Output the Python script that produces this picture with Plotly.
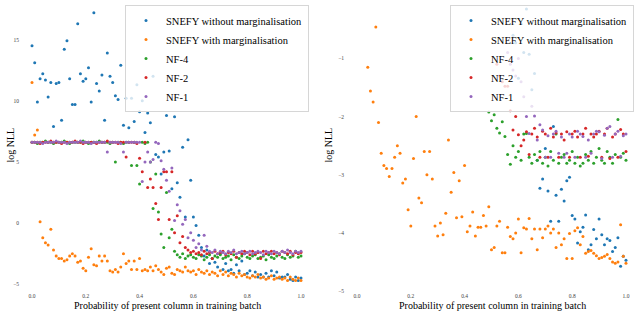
import plotly.graph_objects as go

# ---------------- data ----------------
x_vals = [round(i * 0.01, 2) for i in range(101)]

series_names = ["SNEFY without marginalisation", "SNEFY with marginalisation", "NF-4", "NF-2", "NF-1"]
series_colors = ["#1f77b4", "#ff7f0e", "#2ca02c", "#d62728", "#9467bd"]

# Left panel
left_snefy_nomarg = [14.5, 13.1, 9.9, 11.8, 12.2, 11.7, 10.3, 11.5, 7.9, 11.4,
                     11.5, 8.4, 14.2, 14.9, 11.8, 9.7, 9.7, 16.3, 12.2, 11.6,
                     11.8, 12.7, 9.9, 17.2, 11.4, 10.8, 12.1, 8.4, 13.9, 12.0,
                     11.5, 10.4, 10.1, 12.9, 8.0, 10.2, 7.8, 10.2, 8.3, 11.3,
                     9.1, 10.0, 7.4, 9.0, 8.2, 12.0, 5.6, 5.4, 4.0, 5.8,
                     8.8, 5.9, 2.8, 8.7, 3.3, 2.1, 6.2, 0.5, 6.8, 3.5,
                     0.5, -0.2, -1.0, -2.0, -2.7, -2.2, -3.3, -2.9, -3.2, -3.6,
                     -2.5, -3.8, -3.3, -3.9, -3.8, -4.1, -3.4, -3.9, -3.1, -4.2,
                     -4.1, -3.9, -4.3, -4.0, -4.4, -4.2, -4.4, -4.1, -4.4, -3.9,
                     -4.3, -4.0, -4.5, -4.4, -4.4, -4.2, -4.6, -4.7, -4.4, -4.7, -4.5]
left_snefy_marg = [11.5, 7.2, 7.6, 0.1, -1.2, -1.6, -1.8, -0.5, -2.2, -2.7,
                   -2.9, -2.9, -3.1, -3.0, -2.7, -2.5, -2.7, -3.2, -3.1, -3.7,
                   -3.9, -2.8, -2.1, -3.4, -3.5, -2.7, -3.1, -2.7, -3.1, -3.9,
                   -4.0, -3.8, -4.0, -3.6, -2.5, -3.3, -3.1, -3.8, -3.1, -3.8,
                   -2.9, -3.9, -3.8, -3.9, -3.6, -3.9, -3.5, -3.8, -4.0, -4.2,
                   -3.7, -3.6, -4.1, -4.2, -3.8, -3.9, -4.0, -3.6, -3.9, -4.0,
                   -3.9, -4.2, -3.8, -4.0, -4.1, -3.9, -4.2, -4.0, -4.1, -4.3,
                   -3.9, -4.2, -4.0, -4.3, -4.1, -4.2, -4.4, -4.1, -4.3, -4.2,
                   -4.4, -4.5, -4.3, -4.4, -4.2, -4.5, -4.4, -4.6, -4.5, -4.3,
                   -4.6, -4.5, -4.4, -4.6, -4.5, -4.7, -4.4, -4.6, -4.7, -4.5, -4.7]
left_nf4 = [6.6, 6.6, 6.5, 6.6, 6.6, 6.7, 6.6, 6.6, 6.5, 6.6,
            6.6, 6.6, 6.7, 6.6, 6.5, 6.6, 6.6, 6.6, 6.6, 6.7,
            6.6, 6.5, 6.6, 6.6, 6.6, 6.7, 6.6, 6.6, 6.6, 6.5,
            6.6, 5.0, 6.6, 6.6, 6.5, 6.6, 6.6, 4.7, 6.6, 4.7,
            3.2, 6.6, 6.5, 6.6, 5.0, 1.2, 4.0, 0.9, -0.9, -2.0,
            2.5, -1.2, -0.5, -2.3, -2.6, -2.8, -2.5, -2.9, -2.7, -2.6,
            -2.8, -2.9, -2.6, -2.7, -3.0, -2.8, -2.6, -2.9, -2.7, -2.8,
            -2.6, -2.9, -2.8, -2.7, -3.0, -2.6, -2.8, -2.9, -2.7, -2.5,
            -2.8, -2.9, -2.7, -2.6, -2.9, -2.8, -2.7, -3.0, -2.6, -2.8,
            -2.9, -2.7, -2.5, -2.8, -2.9, -2.6, -2.8, -2.7, -2.3, -2.8, -2.7]
left_nf2 = [6.6, 6.6, 6.6, 6.5, 6.6, 6.6, 6.6, 6.7, 6.6, 6.6,
            6.6, 6.5, 6.6, 6.6, 6.6, 6.6, 6.7, 6.6, 6.6, 6.5,
            6.6, 6.6, 6.6, 6.6, 6.5, 6.6, 6.6, 6.6, 6.7, 6.6,
            6.6, 6.6, 6.5, 6.6, 6.6, 5.4, 6.6, 6.6, 6.6, 6.5,
            5.3, 4.2, 6.6, 2.9, 3.6, 2.9, 1.6, 0.3, 2.9, 4.2,
            4.2, 0.3, 4.2, -0.8, 0.6, -1.6, -1.1, -2.0, -2.2, -2.4,
            -2.3, -2.5, -2.4, -2.6, -2.3, -2.5, -2.4, -2.9, -2.3, -2.5,
            -2.4, -2.3, -2.6, -2.4, -2.5, -2.3, -2.8, -2.4, -2.5, -2.3,
            -2.4, -2.6, -2.3, -2.5, -2.4, -2.9, -2.3, -2.5, -2.4, -2.3,
            -2.5, -2.4, -2.6, -2.3, -2.4, -2.5, -2.3, -2.6, -2.4, -2.5, -2.4]
left_nf1 = [6.6, 6.6, 6.6, 6.6, 6.5, 6.6, 6.6, 6.6, 6.6, 6.7,
            6.6, 6.6, 6.6, 6.5, 6.6, 6.6, 6.6, 6.6, 6.7, 6.6,
            6.6, 6.6, 6.5, 6.6, 6.6, 6.6, 6.6, 6.6, 5.8, 6.6,
            6.6, 6.6, 6.6, 6.5, 5.8, 6.6, 6.6, 6.6, 6.6, 6.6,
            6.6, 3.4, 5.0, 5.8, 5.0, 5.2, 6.6, 6.5, 5.1, 4.4,
            3.5, 2.6, 4.5, 0.2, 1.5, 1.0, -0.1, 0.3, -1.2, -0.8,
            -1.4, -2.0, -1.7, -2.2, -1.0, -1.9, -2.3, -2.4, -2.2, -2.5,
            -2.3, -2.4, -2.5, -2.3, -2.4, -2.2, -2.5, -2.4, -2.3, -2.5,
            -2.4, -2.3, -2.5, -2.4, -2.3, -2.4, -2.6, -2.3, -2.4, -2.5,
            -2.3, -2.4, -2.5, -2.3, -2.4, -2.2, -2.4, -2.5, -2.3, -2.4, -2.3]

# Right panel
N = None
right_snefy_nomarg = [N] * 58 + [
    -0.6, -0.73,
    -1.34, -0.4, -0.9, -0.15, -0.93, -1.54, -1.26, -2.75, -3.23, -3.07,
    -2.55, -3.28, -3.8, -2.17, -3.35, -3.8, -3.25, -3.45, -3.1, -3.04,
    -3.7, -3.76, -4.17, -3.98, -3.9, -3.69, -4.29, -4.2, -3.94, -4.1,
    -3.76, -4.03, -4.2, -4.1, -4.13, -4.32, -4.25, -4.08, -4.57, -4.4, -4.47]
right_snefy_marg = [N, N, N, N, -1.15, -1.56, -1.75, -0.46, -2.1, -2.63,
                    -2.84, -2.89, -3.03, -2.89, -2.7, -2.5, -2.63, -3.14, -3.07, -3.6,
                    -3.88, -2.72, -2.0, -3.4, -3.48, -2.6, -3.0, -2.6, -3.07, -3.88,
                    -4.05, -3.83, -4.03, -3.66, -2.4, -3.3, -2.96, -3.74, -3.1, -3.72,
                    -2.84, -3.98, -3.88, -3.64, -4.05, -3.9, -3.9, -3.7, -3.88, -3.55,
                    -4.29, -4.25, -3.88, -3.8, -4.34, -4.34, -3.9, -4.06, -4.1, -4.0,
                    -3.76, -4.34, -3.91, -3.93, -3.75, -4.1, -3.93, -4.29, -3.93, -4.08,
                    -3.93, -3.88, -4.0, -3.93, -4.25, -4.0, -4.2, -4.1, -4.44, -4.01,
                    -4.44, -3.96, -3.91, -4.2, -4.06, -4.35, -4.32, -4.3, -4.35, -4.39,
                    -4.44, -4.42, -4.4, -4.37, -4.44, -4.5, -4.52, -4.5, -3.86, -4.4, -4.52]
right_nf4 = [N] * 49 + [
    -1.92,
    -2.07, -1.97, -2.2, -2.28, -2.09, -2.34, -2.65, -2.82, -2.5, -2.7,
    -2.6, -2.75, -2.3, -2.29, -2.7, -2.8, -2.65, -2.75, -2.6, -2.8,
    -2.7, -2.85, -2.6, -2.75, -2.3, -2.8, -2.7, -2.65, -2.8, -2.75,
    -2.6, -2.8, -2.7, -2.85, -2.8, -2.65, -2.75, -2.6, -2.8, -2.7,
    -2.55, -2.75, -2.8, -2.6, -2.7, -2.8, -2.65, -2.05, -2.7, -2.63, -2.75]
right_nf2 = [N] * 52 + [
    -1.1, -1.3, -1.4, -1.48, -1.48, -1.9, -2.23, -2.0,
    -2.31, -2.5, -2.4, -2.26, -2.65, -2.3, -2.2, -2.35, -2.7, -2.25,
    -2.3, -2.7, -2.2, -2.35, -2.28, -2.7, -2.3, -2.4, -2.26, -2.7,
    -2.3, -2.25, -2.35, -2.7, -2.3, -2.2, -2.68, -2.3, -2.35, -2.3,
    -2.25, -2.7, -2.3, -2.2, -2.72, -2.35, -2.3, -2.7, -2.22, -2.3, -2.6]
right_nf1 = [N] * 56 + [
    -0.9, -1.1, -1.2, -1.3,
    -1.0, -1.4, -1.66, -2.0, -2.29, -1.82, -1.99, -2.4, -2.14, -2.23,
    -2.7, -2.33, -2.7, -2.3, -2.25, -2.63, -2.35, -2.7, -2.63, -2.3,
    -2.35, -2.7, -2.25, -2.3, -2.34, -2.7, -2.4, -2.63, -2.3, -2.25,
    -2.26, -2.72, -2.32, -2.2, -2.17, -2.7, -2.3, -2.25, -2.68, -2.33, -2.3]

left_ticks = [15, 10, 5, 0, -5]
right_ticks = [-1, -2, -3, -4, -5]
x_ticks = [0.0, 0.2, 0.4, 0.6, 0.8, 1.0]
x_tick_text = ["0.0", "0.2", "0.4", "0.6", "0.8", "1.0"]
x_title = "Probability of present column in training batch"
y_title = "log NLL"

left_data = [left_snefy_nomarg, left_snefy_marg, left_nf4, left_nf2, left_nf1]
right_data = [right_snefy_nomarg, right_snefy_marg, right_nf4, right_nf2, right_nf1]

# ---------------- figure ----------------
W, H = 640, 314
SERIF = "Liberation Serif"
fig = go.Figure()

for name, col, ys in zip(series_names, series_colors, left_data):
    fig.add_trace(go.Scatter(x=x_vals, y=ys, mode="markers", name=name,
                             marker=dict(color=col, size=3, line=dict(width=0)),
                             xaxis="x", yaxis="y", legend="legend"))
for name, col, ys in zip(series_names, series_colors, right_data):
    fig.add_trace(go.Scatter(x=x_vals, y=ys, mode="markers", name=name,
                             marker=dict(color=col, size=3, line=dict(width=0)),
                             xaxis="x2", yaxis="y2", legend="legend2"))


def px_x(p):
    return p / W


def px_y(p):
    return 1 - p / H


ydom = [px_y(294), px_y(5)]
axis_common = dict(showgrid=False, zeroline=False, showline=False, ticks="",
                   tickfont=dict(family=SERIF, size=5.5, color="#444"))

legend_common = dict(xanchor="left", yanchor="top",
                     bgcolor="rgba(255,255,255,0.8)", bordercolor="#d6d6d6", borderwidth=1,
                     font=dict(family=SERIF, size=10.5, color="black"),
                     tracegroupgap=0, itemwidth=30)

fig.update_layout(
    width=W, height=H,
    margin=dict(l=0, r=0, t=0, b=0),
    paper_bgcolor="white", plot_bgcolor="white",
    xaxis=dict(domain=[px_x(20), px_x(310)], range=[-0.0446, 1.0335],
               tickvals=x_ticks, ticktext=x_tick_text, anchor="y", **axis_common),
    yaxis=dict(domain=ydom, range=[-5.57, 17.83], tickvals=left_ticks,
               anchor="x", **axis_common),
    xaxis2=dict(domain=[px_x(345), px_x(635)], range=[-0.0446, 1.0335],
                tickvals=x_ticks, ticktext=x_tick_text, anchor="y2", **axis_common),
    yaxis2=dict(domain=ydom, range=[-5.0, -0.081], tickvals=right_ticks,
                anchor="x2", **axis_common),
    legend=dict(x=px_x(125), y=px_y(5), **legend_common),
    legend2=dict(x=px_x(450), y=px_y(5), **legend_common),
    showlegend=True,
)

annots = [
    dict(text=x_title, x=px_x(167), y=px_y(308.5)),
    dict(text=x_title, x=px_x(492), y=px_y(308.5)),
    dict(text=y_title, x=px_x(11), y=px_y(147), textangle=-90),
    dict(text=y_title, x=px_x(329), y=px_y(147), textangle=-90),
]
for a in annots:
    fig.add_annotation(xref="paper", yref="paper", showarrow=False,
                       xanchor="center", yanchor="middle",
                       font=dict(family=SERIF, size=10, color="black"), **a)

fig.write_html("out.html", config={"displayModeBar": False},
               post_script="document.body.style.margin='0';")
